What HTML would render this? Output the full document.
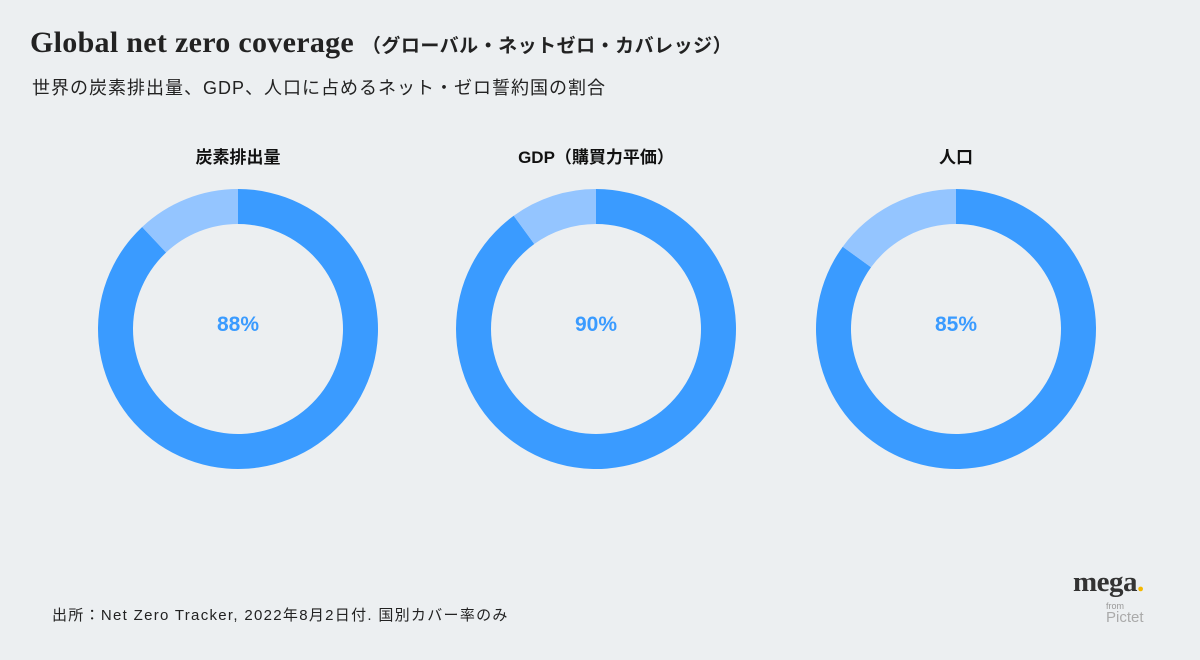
<!DOCTYPE html>
<html><head><meta charset="utf-8"><style>
body{margin:0;background:#eceff1;}
#wrap{position:relative;width:1200px;height:660px;background:#eceff1;overflow:hidden;font-family:"Liberation Sans","Noto Sans CJK JP",sans-serif;}
.t{position:absolute;white-space:nowrap;}
</style></head><body>
<div id="wrap">
<div class="t" style="left:30px;top:26px;font-family:'Liberation Serif','Noto Serif CJK SC',serif;font-size:30px;font-weight:bold;color:#222;letter-spacing:0.3px;">Global net zero coverage <span style="font-family:'Liberation Sans','Noto Sans CJK JP',sans-serif;font-size:19px;font-weight:bold;letter-spacing:0.5px;">（グローバル・ネットゼロ・カバレッジ）</span></div>
<div class="t" style="left:32px;top:74px;font-size:18px;letter-spacing:1px;color:#222;">世界の炭素排出量、GDP、人口に占めるネット・ゼロ誓約国の割合</div>
<svg id="chart" width="1200" height="660" style="position:absolute;left:0;top:0"></svg>
<div class="t" style="left:52px;top:604px;font-size:15px;letter-spacing:1.3px;color:#222;">出所：Net Zero Tracker, 2022年8月2日付. 国別カバー率のみ</div>
<div class="t" style="left:1073px;top:566px;font-family:'Liberation Serif',serif;font-size:29px;font-weight:bold;color:#333;letter-spacing:-0.5px;">mega<span style="color:#f5b800">.</span></div>
<div class="t" style="left:1106px;top:601px;font-size:9px;color:#999;">from</div>
<div class="t" style="left:1106px;top:609px;font-size:15px;color:#aaa;">Pictet</div>
</div>
<script>
const categories=["炭素排出量","GDP（購買力平価）","人口"];
const values=[88,90,85];
const labels=["88%","90%","85%"];
const centersX=[238,596,956];
const cy=329, R=140, r=105;
const svg=document.getElementById('chart');
const NS="http://www.w3.org/2000/svg";
function pt(rad,frac){const a=frac*2*Math.PI;return [Math.sin(a)*rad,-Math.cos(a)*rad];}
function arc(cx,f0,f1){
  const large=(f1-f0)>0.5?1:0;
  const [x0,y0]=pt(R,f0),[x1,y1]=pt(R,f1),[x2,y2]=pt(r,f1),[x3,y3]=pt(r,f0);
  return `M${cx+x0},${cy+y0}A${R},${R} 0 ${large} 1 ${cx+x1},${cy+y1}L${cx+x2},${cy+y2}A${r},${r} 0 ${large} 0 ${cx+x3},${cy+y3}Z`;
}
categories.forEach((c,i)=>{
  const cx=centersX[i], f=values[i]/100;
  const p1=document.createElementNS(NS,'path');
  p1.setAttribute('d',arc(cx,0,f));p1.setAttribute('fill','#3a9bff');
  
  
  svg.appendChild(p1);
  const p2=document.createElementNS(NS,'path');
  p2.setAttribute('d',arc(cx,f,0.99999));p2.setAttribute('fill','#94c5ff');
  
  
  svg.appendChild(p2);
  const t=document.createElementNS(NS,'text');
  t.setAttribute('x',cx);t.setAttribute('y',cy+2);t.setAttribute('text-anchor','middle');
  t.setAttribute('font-size','21');t.setAttribute('font-weight','bold');t.setAttribute('fill','#3a9bff');
  t.setAttribute('font-family','Liberation Sans, sans-serif');
  t.textContent=labels[i];
  
  
  svg.appendChild(t);
  const h=document.createElementNS(NS,'text');
  h.setAttribute('x',cx);h.setAttribute('y',163);h.setAttribute('text-anchor','middle');
  h.setAttribute('font-size','17');h.setAttribute('font-weight','bold');h.setAttribute('fill','#111');
  h.setAttribute('font-family','Liberation Sans, Noto Sans CJK JP, sans-serif');
  h.textContent=c;
  
  
  svg.appendChild(h);
});
</script>
</body></html>
